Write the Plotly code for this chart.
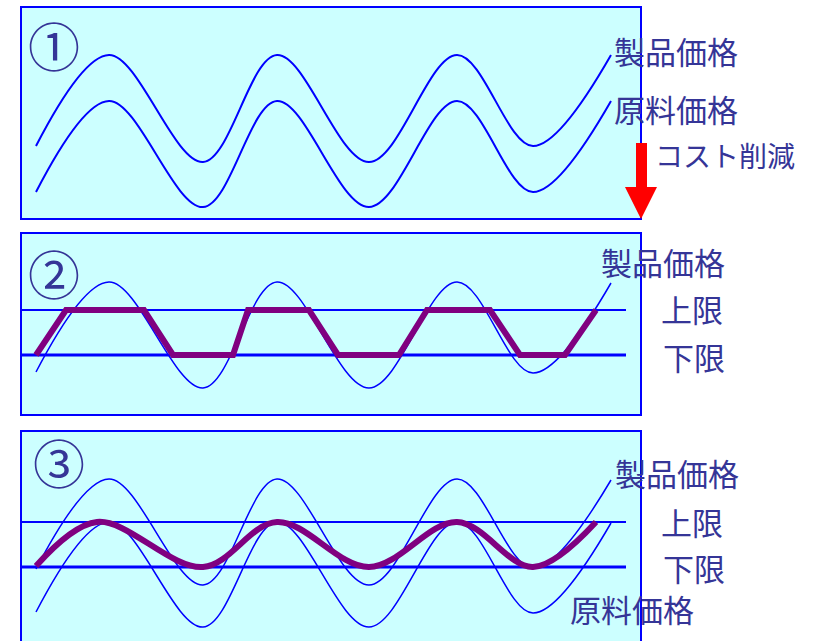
import plotly.graph_objects as go

W, H = 814, 641

# ---------------- data ----------------
# time axis shared by all three panels
# Panel 1: product price / raw material price
p1_product_t = [15, 88, 182, 256, 348, 436, 512, 590]
p1_product_v = [73, 164, 57, 164, 57, 164, 73, 164]
p1_raw_t = [15, 88, 182, 256, 348, 436, 512, 590]
p1_raw_v = [27, 118, 12, 118, 12, 118, 27, 118]

# Panel 2: product price, limits, clipped (trapezoid) price
p2_product_t = [15, 88, 182, 256, 348, 436, 512, 590]
p2_product_v = [43, 133, 27, 133, 27, 133, 42, 132]
p2_limit_t = [0, 605]
p2_upper_v = [105, 105]
p2_lower_v = [60, 60]
p2_clip_t = [15, 45, 123, 152, 212, 227, 288, 317, 378, 406, 469, 499, 544, 575]
p2_clip_v = [60, 105, 105, 60, 60, 105, 105, 60, 60, 105, 105, 60, 60, 105]

# Panel 3: product price, raw price, limits, smoothed price
p3_product_t = [15, 88, 182, 256, 348, 436, 512, 590]
p3_product_v = [72, 162, 56, 162, 56, 162, 73, 161]
p3_raw_t = [15, 88, 182, 256, 348, 436, 512, 590]
p3_raw_v = [29, 119, 14, 119, 14, 119, 28, 118]
p3_limit_t = [0, 605]
p3_upper_v = [119, 119]
p3_lower_v = [74, 74]
p3_smooth_t = [15, 76, 182, 256, 348, 436, 512, 575]
p3_smooth_v = [75, 119, 74, 119, 74, 119, 74, 119]

# ---------------- helpers for layout placement ----------------
def px(x):
    return x / W

def py(y):
    return 1 - y / H

BLUE = "#0000FF"
PURPLE = "#800080"
TXT = "#353597"
FONT = "Noto Sans CJK JP"

fig = go.Figure()

def line(t, v, yax, width, color=BLUE, spline=True):
    fig.add_trace(go.Scatter(
        x=t, y=v, yaxis=yax, xaxis="x", mode="lines",
        line=dict(color=color, width=width, shape="spline" if spline else "linear",
                  smoothing=1.0),
        hoverinfo="skip", cliponaxis=False))

# panel 1
line(p1_product_t, p1_product_v, "y", 2)
line(p1_raw_t, p1_raw_v, "y", 2)
# panel 2
line(p2_product_t, p2_product_v, "y2", 1.5)
line(p2_limit_t, p2_upper_v, "y2", 2, spline=False)
line(p2_limit_t, p2_lower_v, "y2", 3, spline=False)
line(p2_clip_t, p2_clip_v, "y2", 6, color=PURPLE, spline=False)
# panel 3
line(p3_product_t, p3_product_v, "y3", 1.5)
line(p3_raw_t, p3_raw_v, "y3", 1.5)
line(p3_limit_t, p3_upper_v, "y3", 2, spline=False)
line(p3_limit_t, p3_lower_v, "y3", 3, spline=False)
line(p3_smooth_t, p3_smooth_v, "y3", 6, color=PURPLE)

# panel boxes (pixel edges)
boxes = [(21, 7, 641, 219), (21, 233, 641, 415), (21, 431, 641, 660)]
shapes = []
for (x0, y0, x1, y1) in boxes:
    shapes.append(dict(type="rect", xref="paper", yref="paper",
                       x0=px(x0), x1=px(x1), y0=py(y1), y1=py(y0),
                       fillcolor="#CCFFFF", line=dict(color=BLUE, width=2),
                       layer="below"))

# red arrow (cost reduction)
arrow_pts = [(636, 143), (647, 143), (647, 187), (657, 187), (641, 219),
             (625, 187), (636, 187)]
path = "M " + " L ".join(f"{px(a):.5f},{py(b):.5f}" for a, b in arrow_pts) + " Z"
shapes.append(dict(type="path", xref="paper", yref="paper", path=path,
                   fillcolor="#FF0000", line=dict(width=0), layer="above"))

annotations = []

def label(text, x, y, size=31, anchor="left"):
    annotations.append(dict(text=text, x=px(x), y=py(y - 3), xref="paper", yref="paper",
                            xanchor=anchor, yanchor="middle", showarrow=False,
                            font=dict(family=FONT, size=size, color=TXT)))

label("①", 54, 47, 52, "center")
label("②", 54, 275, 52, "center")
label("③", 59, 464, 52, "center")

label("製品価格", 612, 53)
label("原料価格", 612, 111)
label("コスト削減", 653, 158, 28)

label("製品価格", 599, 264)
label("上限", 659, 312)
label("下限", 661, 359)

label("製品価格", 613, 475)
label("上限", 659, 524)
label("下限", 661, 570)
label("原料価格", 568, 611)

fig.update_layout(
    width=W, height=H,
    margin=dict(l=0, r=0, t=0, b=0),
    paper_bgcolor="white", plot_bgcolor="rgba(0,0,0,0)",
    showlegend=False,
    xaxis=dict(domain=[px(21), px(641)], range=[0, 620], visible=False, fixedrange=True),
    yaxis=dict(domain=[py(219), py(7)], range=[0, 212], visible=False, anchor="x"),
    yaxis2=dict(domain=[py(415), py(233)], range=[0, 182], visible=False, anchor="x"),
    yaxis3=dict(domain=[0, py(431)], range=[0, 210], visible=False, anchor="x"),
    shapes=shapes, annotations=annotations,
)

fig.write_html("out.html", config={"displayModeBar": False},
               post_script="document.body.style.margin='0px';document.body.style.overflow='hidden';")
